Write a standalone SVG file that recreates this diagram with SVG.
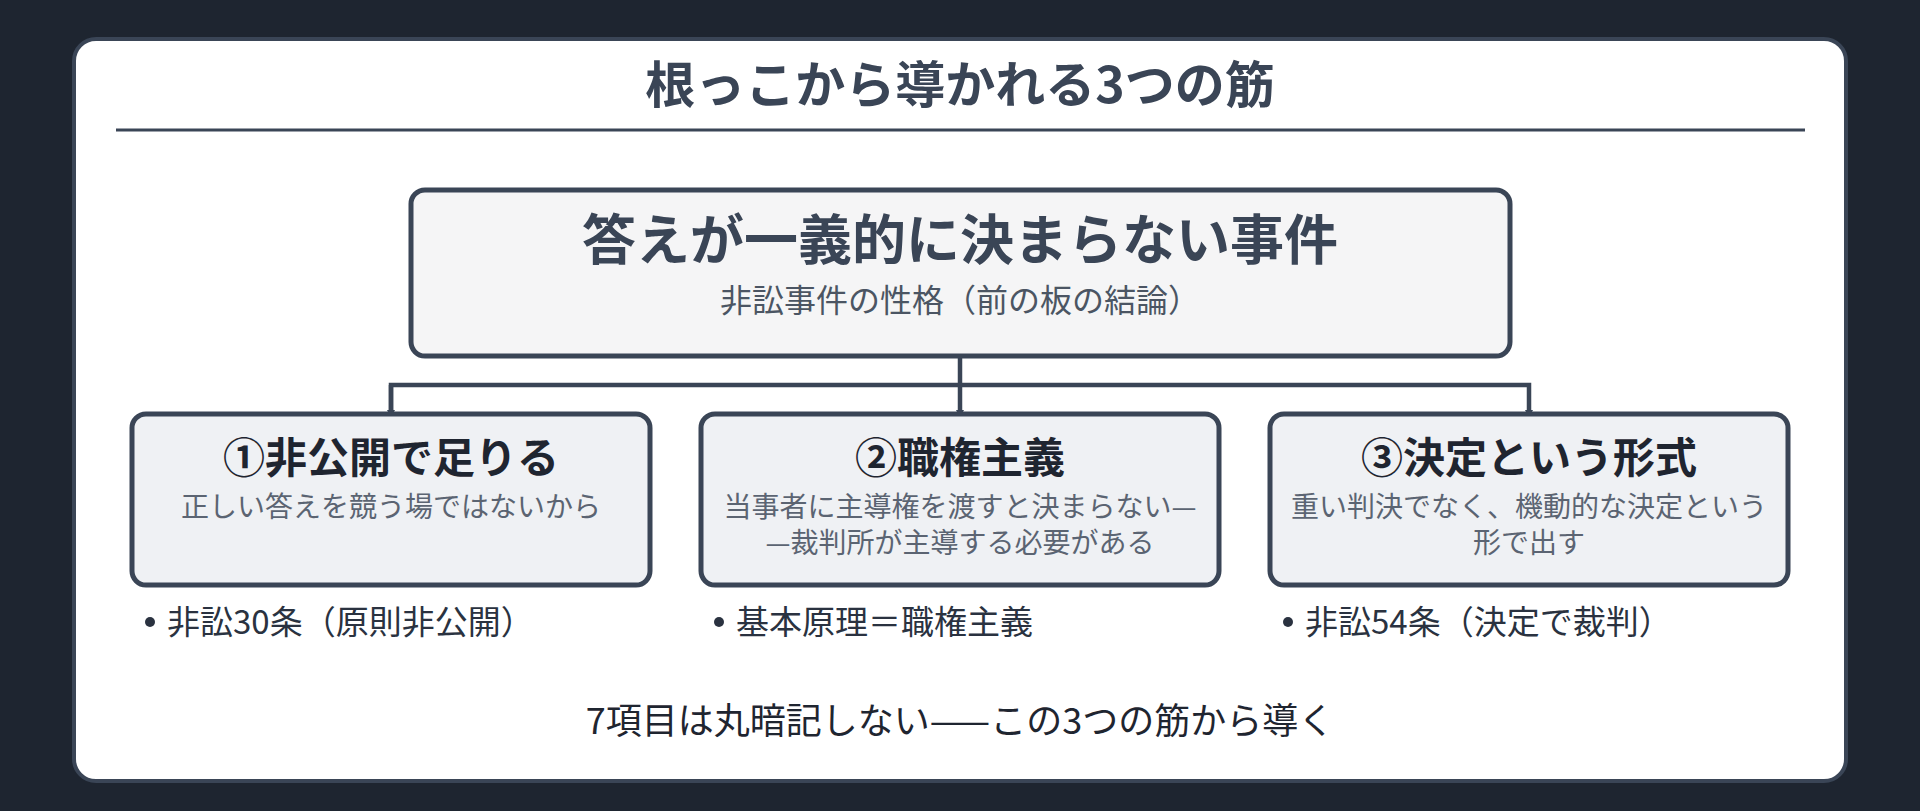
<svg xmlns="http://www.w3.org/2000/svg" width="1920" height="811" viewBox="0 0 1920 811">
  <defs>
    <style>
      .t { font-family: "Noto Sans CJK JP", "Noto Sans", sans-serif; text-anchor: middle; }
      .title { font-size: 50px; font-weight: 700; fill: #3a4556; }
      .main { font-size: 54px; font-weight: 700; fill: #3a4556; }
      .sub { font-size: 32px; font-weight: 400; fill: #4b5563; }
      .btitle { font-size: 42px; font-weight: 700; fill: #1f2530; }
      .desc { font-size: 28px; font-weight: 400; fill: #5b6472; }
      .bullet { font-family: "Noto Sans CJK JP", "Noto Sans", sans-serif; font-size: 33px; fill: #2a3240; }
      .foot { font-size: 36px; font-weight: 400; fill: #1f2530; }
      .box { fill: #eff1f4; stroke: #3a4556; stroke-width: 5; }
      .conn { fill: none; stroke: #3a4556; stroke-width: 4.5; }
    </style>
    <marker id="arr" viewBox="0 0 10 10" refX="10" refY="5" markerWidth="1.8" markerHeight="2.4" orient="auto" markerUnits="strokeWidth">
      <path d="M0,0 L10,5 L0,10 Z" fill="#3a4556"/>
    </marker>
  </defs>
  <rect x="0" y="0" width="1920" height="811" fill="#1e2530"/>
  <rect x="74" y="39" width="1772" height="742" rx="22" fill="#ffffff" stroke="#3a4556" stroke-width="4"/>
  <text class="t title" x="960" y="103">根っこから導かれる3つの筋</text>
  <line x1="116" y1="130" x2="1805" y2="130" stroke="#3a4556" stroke-width="3"/>

  <g id="connectors">
    <path class="conn" d="M960,357 V418" marker-end="url(#arr)"/>
    <path class="conn" d="M391,418 V385 H1529 V418" marker-end="url(#arr)"/>
    <path class="conn" d="M391,385 V418" marker-end="url(#arr)"/>
  </g>

  <g id="root">
    <rect x="411" y="190" width="1099" height="166" rx="14" fill="#f5f5f6" stroke="#3a4556" stroke-width="5"/>
    <text class="t main" x="960" y="260">答えが一義的に決まらない事件</text>
    <text class="t sub" x="960" y="312">非訟事件の性格（前の板の結論）</text>
  </g>

  <g id="node1">
    <rect class="box" x="132" y="414" width="518" height="171" rx="14"/>
    <text class="t btitle" x="391" y="473">①非公開で足りる</text>
    <text class="t desc" x="391" y="517">正しい答えを競う場ではないから</text>
  </g>
  <g id="node2">
    <rect class="box" x="701" y="414" width="518" height="171" rx="14"/>
    <text class="t btitle" x="960" y="473">②職権主義</text>
    <text class="t desc" x="960" y="517">当事者に主導権を渡すと決まらない—</text>
    <text class="t desc" x="960" y="553">—裁判所が主導する必要がある</text>
  </g>
  <g id="node3">
    <rect class="box" x="1270" y="414" width="518" height="171" rx="14"/>
    <text class="t btitle" x="1529" y="473">③決定という形式</text>
    <text class="t desc" x="1529" y="517">重い判決でなく、機動的な決定という</text>
    <text class="t desc" x="1529" y="553">形で出す</text>
  </g>

  <g id="bullets">
    <circle cx="150" cy="622" r="5" fill="#2a3240"/>
    <text class="bullet" x="167" y="634">非訟30条（原則非公開）</text>
    <circle cx="719" cy="622" r="5" fill="#2a3240"/>
    <text class="bullet" x="736" y="634">基本原理＝職権主義</text>
    <circle cx="1288" cy="622" r="5" fill="#2a3240"/>
    <text class="bullet" x="1305" y="634">非訟54条（決定で裁判）</text>
  </g>

  <text class="t foot" x="960" y="734">7項目は丸暗記しない——この3つの筋から導く</text>
</svg>
